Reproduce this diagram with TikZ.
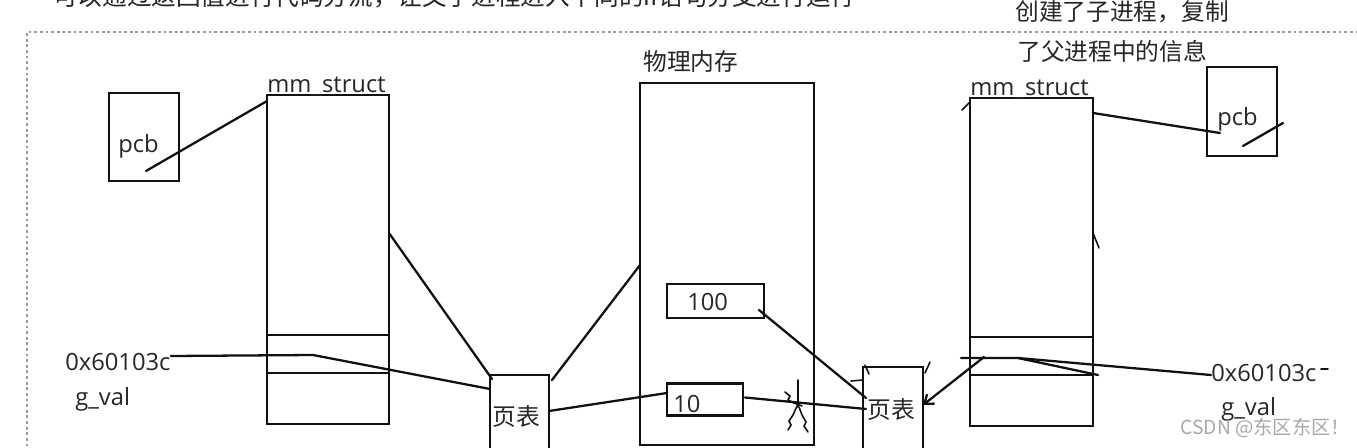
\documentclass[tikz,border=0pt]{standalone}
\usepackage{fontspec}
\setmainfont{Open Sans}
\newfontfamily\cjk{Noto Sans CJK SC}
\usepackage{xcolor}
\usetikzlibrary{arrows.meta,positioning,calc}
\definecolor{ink}{HTML}{111111}
\definecolor{txtgray}{HTML}{262626}
\definecolor{framegray}{HTML}{9A9A9A}
\definecolor{wmgray}{HTML}{A8A8A8}

\begin{document}
\begin{tikzpicture}[
  x=0.02cm, y=-0.02cm,
  font=\fontsize{13.5}{16}\selectfont,
  box/.style={draw=ink, line width=1.3pt, inner sep=0pt, outer sep=0pt},
  lbl/.style={inner sep=0pt, text=txtgray},
  txt/.style={lbl, anchor=west},
  wire/.style={draw=ink, line width=1.3pt, line cap=round},
  stray/.style={draw=ink, line width=0.9pt, line cap=round},
  arr/.style={wire, -{Straight Barb[length=1.6mm, width=2.4mm]}},
  frameline/.style={draw=framegray, line width=0.6pt, dash pattern=on 1.6pt off 1.6pt}
]
\useasboundingbox (0,0) rectangle (1357,447);

% cut-off caption and frame
\node[txt, font=\fontsize{14}{16}\selectfont\cjk] (intro) at (53,-4) {可以通过返回值进行代码分流，让父子进程进入不同的if语句分支进行运行};
\draw[frameline] (27,452) -- (27,32) -- (1362,32);
\node[txt, font=\fontsize{13.5}{16}\selectfont\cjk] (noteA) at (1015,12) {创建了子进程，复制};
\node[txt, font=\fontsize{13.5}{16}\selectfont\cjk] (noteB) at (1017,51) {了父进程中的信息};

% parent process
\node[box, minimum width=1.4cm, minimum height=1.76cm] (pcbL) at (144,137) {};
\node[txt] (pcbLlbl) at (118,146) {pcb};
\node[box, minimum width=2.44cm, minimum height=6.58cm] (mmL) at (328,259.5) {};
\node[lbl, above right=-0.02cm and 0pt of mmL.north west] (mmLlbl) {mm\_struct};
\draw[wire] (mmL.west |- 0,335) -- (mmL.east |- 0,335);
\draw[wire] (mmL.west |- 0,373) -- (mmL.east |- 0,373);
\node[txt] (addrL) at (65,362) {0x60103c};
\node[txt] (gvalL) at (75,399) {g\_val};
\node[box, minimum width=1.18cm, minimum height=2cm] (ptL) at (519.5,425) {};
\node[txt, font=\fontsize{13.5}{16}\selectfont\cjk] (ptLlbl) at (492,417) {页表};

% physical memory
\node[box, minimum width=3.48cm, minimum height=7.24cm] (mem) at (727,264) {};
\node[lbl, font=\fontsize{13.5}{16}\selectfont\cjk, above right=0.2cm and 0.06cm of mem.north west] (memlbl) {物理内存};
\node[box, minimum width=1.94cm, minimum height=0.68cm] (v100) at (715.5,301) {};
\node[txt] (v100lbl) at (687,302) {100};
\node[box, minimum width=1.52cm, minimum height=0.64cm] (v10) at (705,399.5) {};
\node[txt] (v10lbl) at (673,404) {10};

% child process
\node[box, minimum width=1.2cm, minimum height=2cm] (ptR) at (893,417) {};
\node[txt, font=\fontsize{13.5}{16}\selectfont\cjk] (ptRlbl) at (867,410) {页表};
\node[box, minimum width=2.46cm, minimum height=6.56cm] (mmR) at (1031.5,262) {};
\node[lbl, above right=-0.02cm and 0pt of mmR.north west] (mmRlbl) {mm\_struct};
\draw[wire] (mmR.west |- 0,337) -- (mmR.east |- 0,337);
\draw[wire] (mmR.west |- 0,375) -- (mmR.east |- 0,375);
\node[box, minimum width=1.4cm, minimum height=1.78cm] (pcbR) at (1242,111.5) {};
\node[txt] (pcbRlbl) at (1217,119) {pcb};
\node[txt] (addrR) at (1211,373) {0x60103c};
\node[txt] (gvalR) at (1221,409) {g\_val};

% links
\coordinate (pcbLtail) at (146,171);
\coordinate (gvLmid) at (313,355);
\coordinate (gvRsrc) at (984,357);
\coordinate (gvR) at (1018,358);
\coordinate (pcbRin) at (1220,133);
\draw[wire] (pcbLtail) -- (mmL.west |- 0,101);
\draw[wire] (mmL.east |- 0,233) -- ($(ptL.north west)+(2,4)$);
\draw[wire] ($(ptL.north east)+(3,5)$) -- (mem.west |- 0,265);
\draw[wire] (ptL.east |- 0,411) -- (v10.west |- 0,393);
\draw[wire] (addrL.east |- 0,356) -- (gvLmid) -- (ptL.west |- 0,389);
\draw[wire] ($(v100.east)+(-5,9)$) -- ($(ptR.west |- 0,398)+(3,0)$);
\draw[wire] ($(v10.east)+(2,-2)$) -- ($(ptR.west |- 0,409)+(3,0)$);
\draw[arr] (gvRsrc) -- (ptR.east |- 0,405);
\draw[wire] ($(mmR.west |- 0,358)+(-9,0)$) -- (gvR) -- (addrR.west |- 0,375);
\draw[wire] (gvR) -- ($(mmR.east |- 0,375)+(5,0)$);
\draw[wire] (mmR.east |- 0,113) -- (pcbRin);
\draw[wire] (1243,146) -- (1283,123);

% stray pen marks
\draw[stray] (962,110) -- (970,102);
\draw[stray] (1093,233) -- (1099,248);
\draw[stray] (865,365) -- (869,374);
\draw[stray] (851,381) -- (863,380);
\draw[stray] (925,373) -- (930,362);
\draw[stray] (1321,369) -- (1328,369);
\draw[stray] (798,380) -- (798,407);
\draw[stray] (785,392) -- (790,396) -- (788,400) -- (794,403) -- (802,406);
\draw[stray] (797,406) -- (793,415) -- (789,421) -- (791,425) -- (788,430);
\draw[stray] (799,407) -- (802,415) -- (806,422) -- (804,426) -- (808,432);

% watermark
\node[txt, font=\fontsize{11}{13}\selectfont\cjk, text=wmgray] (wm) at (1180,428) {CSDN @东区东区！};
\end{tikzpicture}
\end{document}
